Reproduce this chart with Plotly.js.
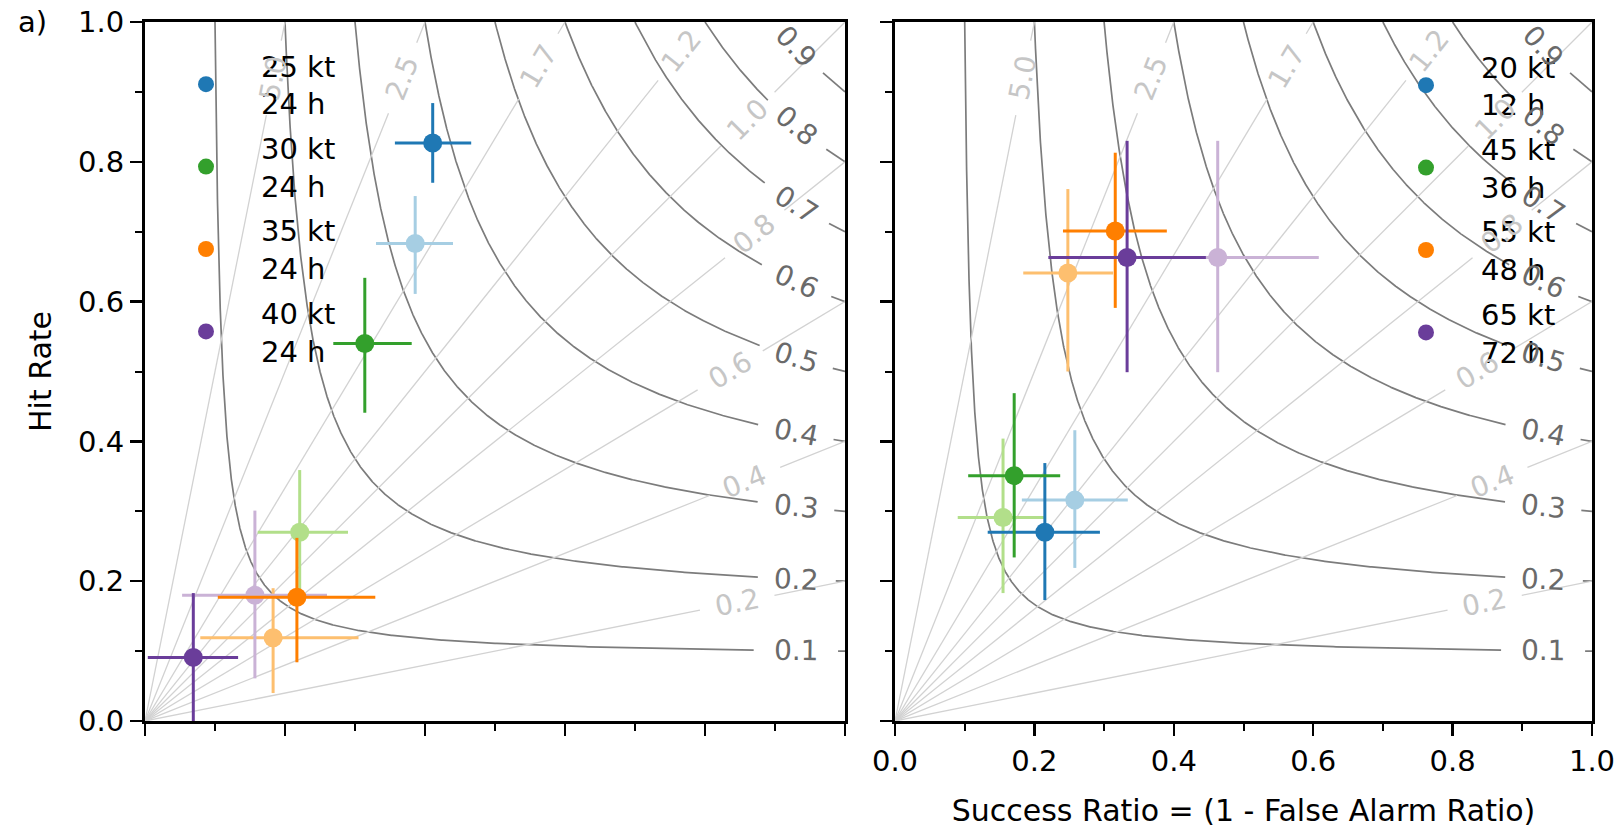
<!DOCTYPE html>
<html><head><meta charset="utf-8">
<script src="https://cdn.plot.ly/plotly-3.0.1.min.js"></script>
<style>html,body{margin:0;padding:0;background:#fff}#chart{width:1616px;height:828px}</style>
</head><body><div id="chart"></div>
<script>
// ---------------- data ----------------
// left panel (a): legend entries = dark series
const leftSpeeds = ['25 kt', '30 kt', '35 kt', '40 kt'];
const leftLeads  = ['24 h', '24 h', '24 h', '24 h'];
const leftDarkColors  = ['#1f78b4', '#33a02c', '#ff7f00', '#6a3d9a'];
const leftLightColors = ['#a6cee3', '#b2df8a', '#fdbf6f', '#cab2d6'];

const leftDarkSR     = [0.411, 0.314, 0.217, 0.069];
const leftDarkSRlo   = [0.357, 0.269, 0.104, 0.004];
const leftDarkSRhi   = [0.466, 0.381, 0.329, 0.133];
const leftDarkPOD    = [0.827, 0.540, 0.177, 0.091];
const leftDarkPODlo  = [0.770, 0.441, 0.084, 0.000];
const leftDarkPODhi  = [0.884, 0.634, 0.262, 0.183];

const leftLightSR    = [0.386, 0.221, 0.183, 0.157];
const leftLightSRlo  = [0.330, 0.161, 0.079, 0.053];
const leftLightSRhi  = [0.440, 0.290, 0.305, 0.260];
const leftLightPOD   = [0.683, 0.270, 0.119, 0.180];
const leftLightPODlo = [0.611, 0.181, 0.040, 0.061];
const leftLightPODhi = [0.751, 0.359, 0.190, 0.301];

// right panel
const rightSpeeds = ['20 kt', '45 kt', '55 kt', '65 kt'];
const rightLeads  = ['12 h', '36 h', '48 h', '72 h'];
const rightDarkColors  = ['#1f78b4', '#33a02c', '#ff7f00', '#6a3d9a'];
const rightLightColors = ['#a6cee3', '#b2df8a', '#fdbf6f', '#cab2d6'];

const rightDarkSR     = [0.215, 0.171, 0.316, 0.333];
const rightDarkSRlo   = [0.133, 0.105, 0.241, 0.220];
const rightDarkSRhi   = [0.294, 0.237, 0.390, 0.446];
const rightDarkPOD    = [0.270, 0.351, 0.701, 0.663];
const rightDarkPODlo  = [0.173, 0.234, 0.591, 0.499];
const rightDarkPODhi  = [0.369, 0.469, 0.813, 0.830];

const rightLightSR    = [0.258, 0.155, 0.248, 0.463];
const rightLightSRlo  = [0.182, 0.090, 0.184, 0.318];
const rightLightSRhi  = [0.334, 0.215, 0.313, 0.608];
const rightLightPOD   = [0.316, 0.291, 0.641, 0.663];
const rightLightPODlo = [0.219, 0.183, 0.500, 0.499];
const rightLightPODhi = [0.416, 0.404, 0.761, 0.830];

// background iso-lines of the performance diagram
const csiLevels = [0.1, 0.2, 0.3, 0.4, 0.5, 0.6, 0.7, 0.8, 0.9];
const csiLabels = ['0.1', '0.2', '0.3', '0.4', '0.5', '0.6', '0.7', '0.8', '0.9'];
const biasLevels = [0.2, 0.4, 0.6, 0.8, 1.0, 1.25, 1.6667, 2.5, 5.0];
const biasLabels = ['0.2', '0.4', '0.6', '0.8', '1.0', '1.2', '1.7', '2.5', '5.0'];

const xTickVals = [0, 0.2, 0.4, 0.6, 0.8, 1.0];
const xTickText = ['0.0', '0.2', '0.4', '0.6', '0.8', '1.0'];

// ---------------- styling / placement ----------------
const F = 'DejaVu Sans, Verdana, sans-serif';
const PX = 700;                       // pixels per unit on both axes
const csiLabelSR = 0.93;              // success ratio where the CSI labels sit
const biasLabelSR = [0.846, 0.857, 0.836, 0.871, 0.861, 0.767, 0.562, 0.368, 0.184];
const gapPx = 38;
const CSI_COLOR = '#7c7c7c', CSI_TEXT = '#6a6a6a';
const BIAS_COLOR = '#d2d2d2', BIAS_TEXT = '#c6c6c6';

function csiCurve(c) {
  const K = 1 / c - 1, n = 900;
  const lx = csiLabelSR, ly = 1 / (1 / c - 1 / lx + 1);
  const xs = [], ys = [];
  let inGap = false;
  for (let i = 0; i <= n; i++) {
    const u = K * i / n;
    const sr = 1 / (1 + u), pod = 1 / (1 + K - u);
    const d = Math.hypot((sr - lx) * PX, (pod - ly) * PX);
    if (d < gapPx) { if (!inGap) { xs.push(null); ys.push(null); } inGap = true; continue; }
    inGap = false; xs.push(sr); ys.push(pod);
  }
  const ang = Math.atan((ly / lx) * (ly / lx)) * 180 / Math.PI;
  return { xs, ys, lx, ly, ang };
}

function biasLine(b, lsr) {
  const end = b <= 1 ? [1, b] : [1 / b, 1];
  const lx = lsr, ly = b * lsr;
  const len = Math.hypot(1, b), ux = 1 / len, uy = b / len, g = gapPx / PX;
  const xs = [0, lx - ux * g], ys = [0, ly - uy * g];
  if (lx + ux * g < end[0]) { xs.push(null, lx + ux * g, end[0]); ys.push(null, ly + uy * g, end[1]); }
  return { xs, ys, lx, ly, ang: -Math.atan(b) * 180 / Math.PI };
}

const traces = [];
const annotations = [];

function addBackground(xa, ya) {
  csiLevels.forEach((c, i) => {
    const cv = csiCurve(c);
    traces.push({ type: 'scatter', mode: 'lines', x: cv.xs, y: cv.ys, xaxis: xa, yaxis: ya,
      line: { color: CSI_COLOR, width: 1.7 }, hoverinfo: 'skip', showlegend: false });
    annotations.push({ xref: xa, yref: ya, x: cv.lx, y: cv.ly, text: csiLabels[i], showarrow: false,
      textangle: cv.ang, xanchor: 'center', yanchor: 'middle', font: { family: F, size: 28, color: CSI_TEXT } });
  });
  biasLevels.forEach((b, i) => {
    const bl = biasLine(b, biasLabelSR[i]);
    traces.push({ type: 'scatter', mode: 'lines', x: bl.xs, y: bl.ys, xaxis: xa, yaxis: ya,
      line: { color: BIAS_COLOR, width: 1.3 }, hoverinfo: 'skip', showlegend: false });
    annotations.push({ xref: xa, yref: ya, x: bl.lx, y: bl.ly, text: biasLabels[i], showarrow: false,
      textangle: bl.ang, xanchor: 'center', yanchor: 'middle', font: { family: F, size: 28, color: BIAS_TEXT } });
  });
}

function pointTrace(xa, ya, sr, lo, hi, pod, plo, phi, color, name, legend, show, group) {
  return {
    type: 'scatter', mode: 'markers', x: [sr], y: [pod], xaxis: xa, yaxis: ya,
    marker: { color: color, size: 19 },
    error_x: { type: 'data', symmetric: false, array: [hi - sr], arrayminus: [sr - lo], color: color, thickness: 3, width: 0 },
    error_y: { type: 'data', symmetric: false, array: [phi - pod], arrayminus: [pod - plo], color: color, thickness: 3, width: 0 },
    name: name, showlegend: show, legend: legend, legendgroup: group, hoverinfo: 'skip', cliponaxis: true
  };
}

addBackground('x', 'y');
addBackground('x2', 'y2');

// light series first
leftLightSR.forEach((v, i) => traces.push(pointTrace('x', 'y', v, leftLightSRlo[i], leftLightSRhi[i],
  leftLightPOD[i], leftLightPODlo[i], leftLightPODhi[i], leftLightColors[i], '', 'legend', false, 'L' + i)));
rightLightSR.forEach((v, i) => traces.push(pointTrace('x2', 'y2', v, rightLightSRlo[i], rightLightSRhi[i],
  rightLightPOD[i], rightLightPODlo[i], rightLightPODhi[i], rightLightColors[i], '', 'legend2', false, 'R' + i)));
leftDarkSR.forEach((v, i) => traces.push(pointTrace('x', 'y', v, leftDarkSRlo[i], leftDarkSRhi[i],
  leftDarkPOD[i], leftDarkPODlo[i], leftDarkPODhi[i], leftDarkColors[i], leftSpeeds[i] + '<br>' + leftLeads[i], 'legend', true, 'L' + i)));
rightDarkSR.forEach((v, i) => traces.push(pointTrace('x2', 'y2', v, rightDarkSRlo[i], rightDarkSRhi[i],
  rightDarkPOD[i], rightDarkPODlo[i], rightDarkPODhi[i], rightDarkColors[i], rightSpeeds[i] + '<br>' + rightLeads[i], 'legend2', true, 'R' + i)));

annotations.push({ xref: 'paper', yref: 'paper', x: (33 - 145) / 1447, y: (721 - 22) / 699, text: 'a)', showarrow: false,
  xanchor: 'center', yanchor: 'middle', font: { family: F, size: 29, color: '#000' } });

const axisCommon = {
  range: [0, 1], showgrid: false, zeroline: false, showline: true, linecolor: '#000', linewidth: 3, mirror: true,
  ticks: 'outside', ticklen: 12, tickwidth: 2.5, tickcolor: '#000',
  tickmode: 'array', tickvals: xTickVals, ticktext: xTickText,
  minor: { ticks: 'outside', ticklen: 7, tickwidth: 2, tickcolor: '#000', dtick: 0.1, tick0: 0, showgrid: false },
  tickfont: { family: F, size: 29, color: '#000' }, fixedrange: true, automargin: false
};

const legendCommon = {
  xref: 'paper', yref: 'paper', xanchor: 'left', yanchor: 'top', bgcolor: 'rgba(0,0,0,0)', borderwidth: 0,
  font: { family: F, size: 29, color: '#000' }, itemwidth: 100, tracegroupgap: 4, valign: 'middle', itemclick: false
};

const layout = {
  width: 1616, height: 828, margin: { l: 145, r: 24, t: 22, b: 107, autoexpand: false },
  paper_bgcolor: '#fff', plot_bgcolor: '#fff', showlegend: true,
  xaxis: Object.assign({}, axisCommon, { domain: [0, 700 / 1447], anchor: 'y', showticklabels: false }),
  yaxis: Object.assign({}, axisCommon, { domain: [0, 1], anchor: 'x',
    title: { text: 'Hit Rate', font: { family: F, size: 30, color: '#000' }, standoff: 18 } }),
  xaxis2: Object.assign({}, axisCommon, { domain: [750 / 1447, 1], anchor: 'y2',
    title: { text: 'Success Ratio = (1 - False Alarm Ratio)', font: { family: F, size: 30, color: '#000' }, standoff: 24 } }),
  yaxis2: Object.assign({}, axisCommon, { domain: [0, 1], anchor: 'x2', showticklabels: false }),
  legend: Object.assign({}, legendCommon, { x: (151 - 145) / 1447, y: (721 - 40) / 699 }),
  legend2: Object.assign({}, legendCommon, { x: (1371 - 145) / 1447, y: (721 - 41) / 699 }),
  annotations: annotations
};

Plotly.newPlot('chart', traces, layout, { displayModeBar: false, staticPlot: true });
</script>
</body></html>
